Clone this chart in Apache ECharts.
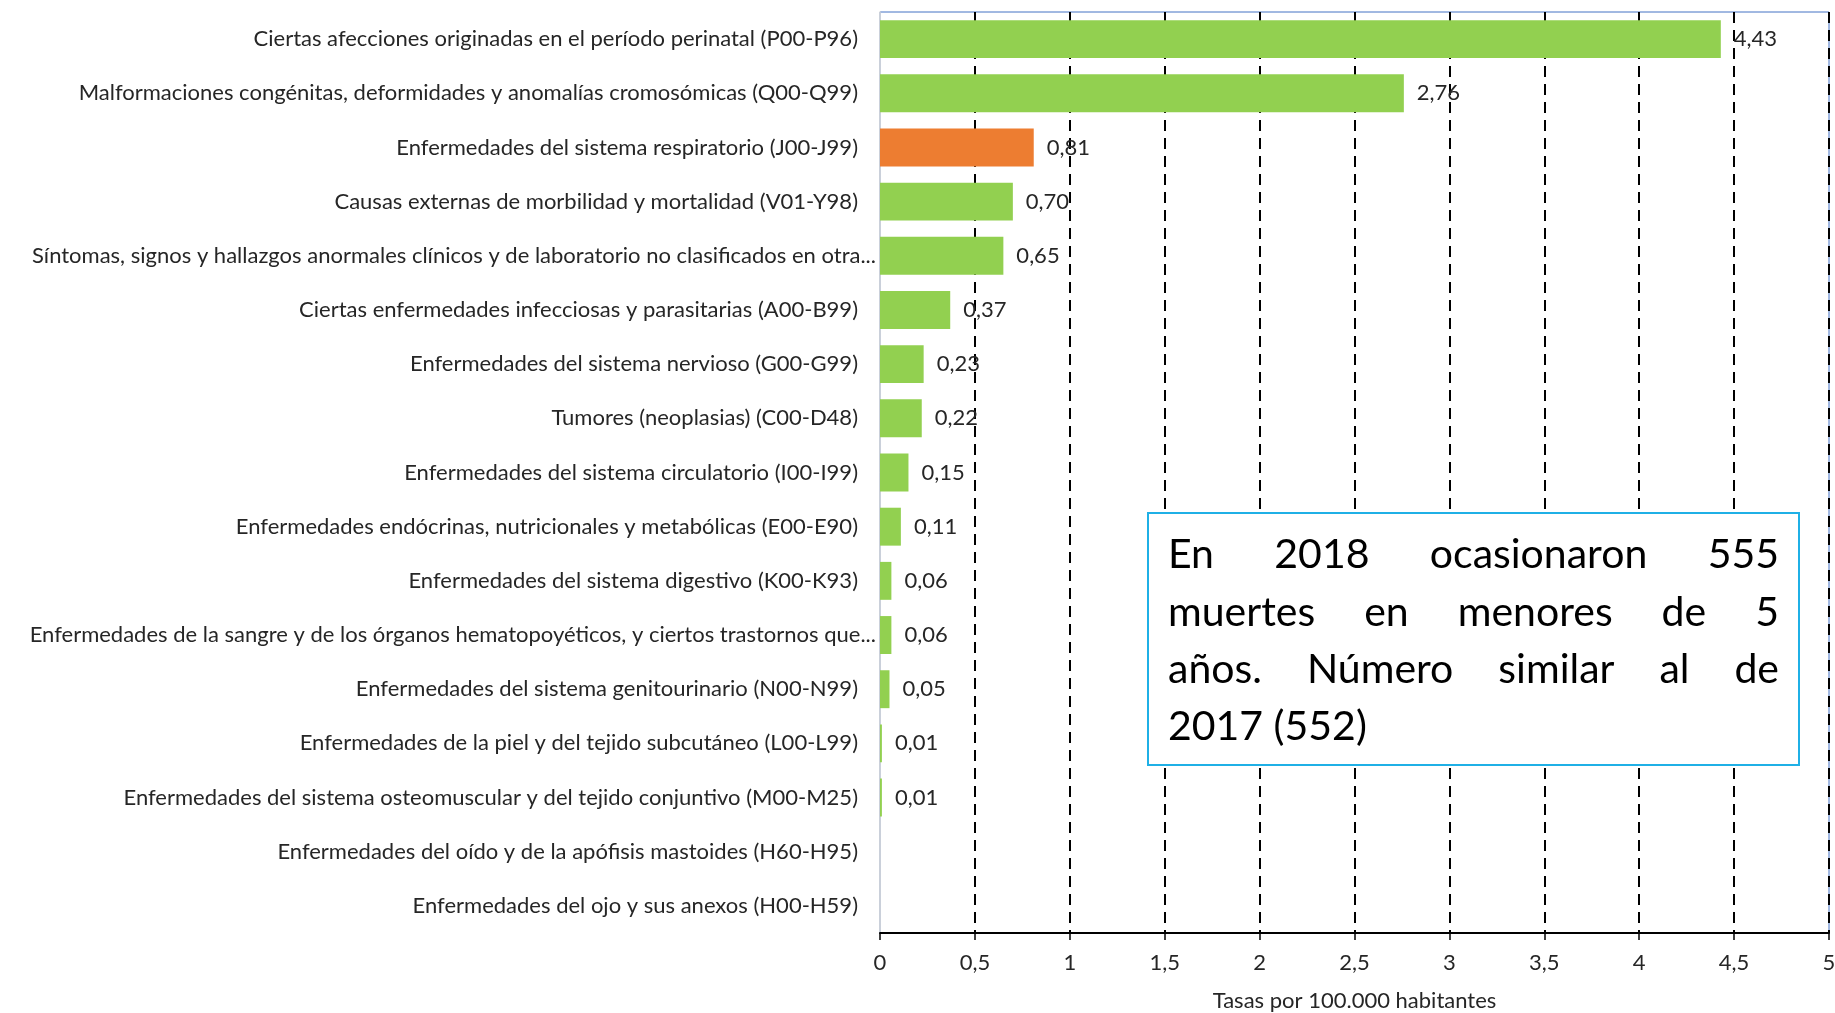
<!DOCTYPE html>
<html>
<head>
<meta charset="utf-8">
<script src="https://cdn.jsdelivr.net/npm/echarts@6/dist/echarts.min.js"></script>
<style>
  html, body { margin: 0; padding: 0; background: #fff; }
  #main { width: 1835px; height: 1013px; }
</style>
</head>
<body>
<div id="main"></div>
<script>
var categories = [
  'Ciertas afecciones originadas en el período perinatal (P00-P96)',
  'Malformaciones congénitas, deformidades y anomalías cromosómicas (Q00-Q99)',
  'Enfermedades del sistema respiratorio (J00-J99)',
  'Causas externas de morbilidad y mortalidad (V01-Y98)',
  'Síntomas, signos y hallazgos anormales clínicos y de laboratorio no clasificados en otra...',
  'Ciertas enfermedades infecciosas y parasitarias (A00-B99)',
  'Enfermedades del sistema nervioso (G00-G99)',
  'Tumores (neoplasias) (C00-D48)',
  'Enfermedades del sistema circulatorio (I00-I99)',
  'Enfermedades endócrinas, nutricionales y metabólicas (E00-E90)',
  'Enfermedades del sistema digestivo (K00-K93)',
  'Enfermedades de la sangre y de los órganos hematopoyéticos, y ciertos trastornos que...',
  'Enfermedades del sistema genitourinario (N00-N99)',
  'Enfermedades de la piel y del tejido subcutáneo (L00-L99)',
  'Enfermedades del sistema osteomuscular y del tejido conjuntivo (M00-M25)',
  'Enfermedades del oído y de la apófisis mastoides (H60-H95)',
  'Enfermedades del ojo y sus anexos (H00-H59)'
];
var rates = [4.43, 2.76, 0.81, 0.70, 0.65, 0.37, 0.23, 0.22, 0.15, 0.11, 0.06, 0.06, 0.05, 0.01, 0.01, null, null];
var highlighted = 'Enfermedades del sistema respiratorio (J00-J99)';
var noteLines = [
  'En 2018 ocasionaron 555',
  'muertes en menores de 5',
  'años. Número similar al de',
  '2017 (552)'
];

var FONT = 'Lato, "Open Sans", sans-serif';
var GREEN = '#92D050';
var ORANGE = '#ED7D31';
var TEXT = '#262626';

var chartDom = document.getElementById('main');
var myChart = echarts.init(chartDom);
var option;

function comma(v) {
  return String(v).replace('.', ',');
}

// justified text for the note box
var boxX = 1148, boxY = 513, boxW = 651, boxH = 252;
var padX = 20, lineH = 57.3, noteSize = 41;
var ctx = document.createElement('canvas').getContext('2d');
ctx.font = noteSize + 'px ' + FONT;
var noteEls = [];
noteLines.forEach(function (line, i) {
  var words = line.split(' ');
  var y = boxY + 42 + i * lineH;
  var innerW = boxW - 2 * padX;
  var x = boxX + padX;
  var gap = ctx.measureText(' ').width;
  if (i < noteLines.length - 1 && words.length > 1) {
    var total = 0;
    words.forEach(function (w) { total += ctx.measureText(w).width; });
    gap = (innerW - total) / (words.length - 1);
  }
  words.forEach(function (w) {
    noteEls.push({
      type: 'text',
      z: 101,
      x: x,
      y: y,
      style: {
        text: w,
        font: noteSize + 'px ' + FONT,
        fill: '#000',
        textVerticalAlign: 'middle'
      }
    });
    x += ctx.measureText(w).width + gap;
  });
});

option = {
  animation: false,
  grid: {
    left: 880,
    right: 6,
    top: 12,
    bottom: 80,
    outerBoundsMode: 'none',
    containLabel: false,
    show: true,
    borderColor: '#4472C4',
    borderWidth: 1
  },
  xAxis: {
    type: 'value',
    min: 0,
    max: 5,
    interval: 0.5,
    name: 'Tasas por 100.000 habitantes',
    nameLocation: 'middle',
    nameGap: 57,
    nameTextStyle: { fontFamily: FONT, fontSize: 22, color: TEXT },
    axisLine: { show: true, lineStyle: { color: '#000', width: 2 } },
    axisTick: { show: true, length: 7, lineStyle: { color: '#000', width: 1.5 } },
    axisLabel: {
      margin: 19,
      fontFamily: FONT,
      fontSize: 22,
      color: TEXT,
      formatter: function (v) { return comma(v); }
    },
    splitLine: {
      show: true,
      showMinLine: false,
      lineStyle: { color: '#000', width: 2, type: [11, 7] }
    }
  },
  yAxis: {
    type: 'category',
    inverse: true,
    data: categories,
    axisLine: { show: true, lineStyle: { color: '#D9D9D9', width: 1.5 } },
    axisTick: { show: false },
    splitLine: { show: false },
    axisLabel: {
      margin: 4,
      formatter: function (v) {
        return v.slice(-3) === '...' ? '{t|' + v + '}' : '{n|' + v + '}';
      },
      rich: {
        n: { fontFamily: FONT, fontSize: 22, color: TEXT, padding: [0, 18, 0, 0] },
        t: { fontFamily: FONT, fontSize: 22, color: TEXT }
      }
    }
  },
  series: [
    {
      type: 'bar',
      data: rates,
      barCategoryGap: '30%',
      itemStyle: {
        color: function (p) { return p.name === highlighted ? ORANGE : GREEN; }
      },
      label: {
        show: true,
        position: 'right',
        distance: 13,
        fontFamily: FONT,
        fontSize: 22,
        color: TEXT,
        formatter: function (p) { return p.value == null ? '' : p.value.toFixed(2).replace('.', ','); }
      }
    }
  ],
  graphic: [
    {
      type: 'group',
      z: 100,
      children: [
        {
          type: 'rect',
          z: 100,
          shape: { x: boxX, y: boxY, width: boxW, height: boxH },
          style: { fill: '#fff', stroke: '#1FB0E6', lineWidth: 2 }
        }
      ].concat(noteEls)
    }
  ]
};

option && myChart.setOption(option);
</script>
</body>
</html>
